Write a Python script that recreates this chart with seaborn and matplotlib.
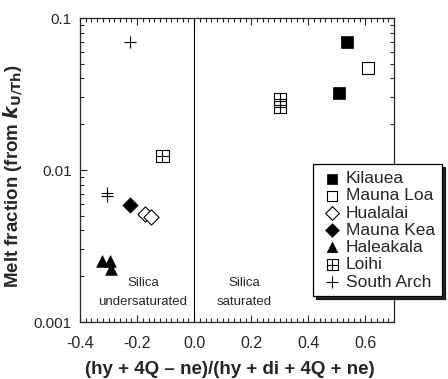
import numpy as np
import pandas as pd
import matplotlib
matplotlib.use('Agg')
import matplotlib.pyplot as plt
import seaborn as sns
from matplotlib.path import Path
from matplotlib.ticker import FixedLocator, FixedFormatter, MultipleLocator, LogLocator, NullFormatter

# data
kilauea_x = [0.535, 0.509]
kilauea_y = [0.069, 0.032]
maunaloa_x = [0.608]
maunaloa_y = [0.047]
hualalai_x = [-0.172, -0.152]
hualalai_y = [0.0051, 0.0049]
maunakea_x = [-0.225]
maunakea_y = [0.0059]
haleakala_x = [-0.324, -0.296, -0.292]
haleakala_y = [0.00253, 0.00253, 0.00222]
loihi_x = [-0.111, 0.302, 0.302]
loihi_y = [0.0124, 0.0294, 0.0259]
southarch_x = [-0.226, -0.305, -0.305]
southarch_y = [0.070, 0.0067, 0.0071]

groups = ['Kilauea', 'Mauna Loa', 'Hualalai', 'Mauna Kea', 'Haleakala', 'Loihi', 'South Arch']
xs = [kilauea_x, maunaloa_x, hualalai_x, maunakea_x, haleakala_x, loihi_x, southarch_x]
ys = [kilauea_y, maunaloa_y, hualalai_y, maunakea_y, haleakala_y, loihi_y, southarch_y]

df = pd.concat([pd.DataFrame({'x': x, 'y': y, 'group': g}) for g, x, y in zip(groups, xs, ys)])

# square with a cross inside, for Loihi
boxcross = Path([(-1, -1), (1, -1), (1, 1), (-1, 1), (-1, -1),
                 (0, -1), (0, 1), (-1, 0), (1, 0)],
                [Path.MOVETO, Path.LINETO, Path.LINETO, Path.LINETO, Path.CLOSEPOLY,
                 Path.MOVETO, Path.LINETO, Path.MOVETO, Path.LINETO])

styles = {
    'Kilauea': dict(marker='s', s=75, facecolor='black', edgecolor='black', linewidth=0.5),
    'Mauna Loa': dict(marker='s', s=75, facecolor='white', edgecolor='black', linewidth=0.8),
    'Hualalai': dict(marker='D', s=60, facecolor='white', edgecolor='black', linewidth=0.8),
    'Mauna Kea': dict(marker='D', s=60, facecolor='black', edgecolor='black', linewidth=0.5),
    'Haleakala': dict(marker='^', s=70, facecolor='black', edgecolor='black', linewidth=0.5),
    'Loihi': dict(marker=boxcross, s=75, facecolor='none', edgecolor='black', linewidth=0.8),
    'South Arch': dict(marker='+', s=80, color='black', linewidth=0.8),
}

sns.set_style('ticks')
plt.rcParams['font.family'] = ['Liberation Sans', 'DejaVu Sans']

fig = plt.figure(figsize=(4.48, 3.79), dpi=100)
ax = fig.add_axes([80 / 448, 57 / 379, 314 / 448, 304 / 379])

for g in groups:
    sub = df[df['group'] == g]
    sns.scatterplot(data=sub, x='x', y='y', ax=ax, label=g, **styles[g])

ax.set_yscale('log')
ax.set_xlim(-0.4, 0.7)
ax.set_ylim(0.001, 0.1)
ax.axvline(0, color='black', linewidth=0.8)

ax.xaxis.set_major_locator(FixedLocator([-0.4, -0.2, 0.0, 0.2, 0.4, 0.6]))
ax.xaxis.set_major_formatter(FixedFormatter(['-0.4', '-0.2', '0.0', '0.2', '0.4', '0.6']))
ax.xaxis.set_minor_locator(MultipleLocator(0.02))
ax.yaxis.set_major_locator(FixedLocator([0.001, 0.01, 0.1]))
ax.yaxis.set_major_formatter(FixedFormatter(['0.001', '0.01', '0.1']))
ax.yaxis.set_minor_locator(LogLocator(base=10, subs=np.arange(2, 10)))
ax.yaxis.set_minor_formatter(NullFormatter())
ax.tick_params(which='both', direction='in', top=True, right=True, labelsize=11.5, width=0.8)
ax.tick_params(which='major', length=5)
ax.tick_params(which='minor', length=3)
ax.tick_params(axis='x', pad=10)
ax.tick_params(axis='y', pad=6, labelsize=11)
for sp in ax.spines.values():
    sp.set_linewidth(0.9)

ax.text(-0.18, 0.00157, 'Silica\nundersaturated', ha='center', va='center', fontsize=9.5, linespacing=1.75)
ax.text(0.175, 0.00157, 'Silica\nsaturated', ha='center', va='center', fontsize=9.5, linespacing=1.75)

ax.set_xlabel('(hy + 4Q \u2013 ne)/(hy + di + 4Q + ne)', fontsize=13.5, fontweight='bold')
ax.set_ylabel(r'Melt fraction (from $\mathbfit{k}_{\mathbf{U/Th}}$)', fontsize=13.5, fontweight='bold')
ax.xaxis.set_label_coords(0.476, -0.128)
ax.yaxis.set_label_coords(-0.175, 0.48)

leg = ax.legend(loc='upper left', bbox_to_anchor=(313 / 448, 1 - 164 / 379), bbox_transform=fig.transFigure,
                frameon=True, fancybox=False, shadow={'color': 'black', 'alpha': 0.85}, fontsize=12.5,
                handletextpad=0.1, borderpad=0.4, labelspacing=0.12, handlelength=1.4, borderaxespad=0,
                markerscale=0.9)
leg.get_frame().set_edgecolor('black')
leg.get_frame().set_linewidth(0.9)
leg.get_frame().set_alpha(1)

fig.savefig('out.png', dpi=100)
